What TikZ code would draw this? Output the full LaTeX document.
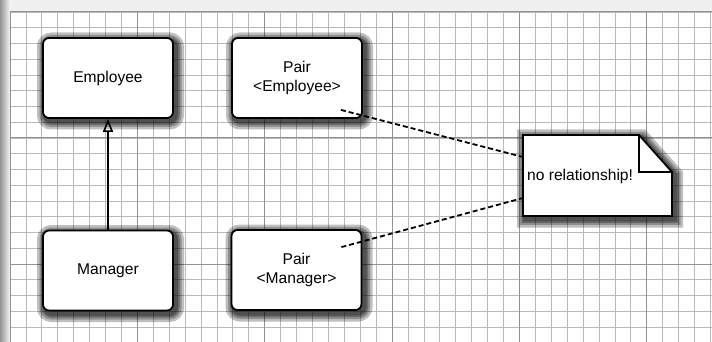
\documentclass[tikz,border=0pt]{standalone}
\usepackage{fontspec}
\setmainfont{Liberation Sans}
\usetikzlibrary{calc}
\usetikzlibrary{arrows.meta}

\tikzset{
  shadowring/.style={preaction={draw=black,line width=#1,opacity=.25,
    transform canvas={xshift=2.5pt,yshift=-3pt}}},
  softshadow/.style={shadowring=17pt,shadowring=12pt,shadowring=8pt,shadowring=5pt},
  classbox/.style={draw,line width=1.8pt,rounded corners=6pt,fill=white,
    minimum width=130pt,minimum height=80pt,align=center,inner sep=2pt,
    font=\fontsize{15.6}{19.5}\selectfont,softshadow},
  notetext/.style={inner sep=0pt,font=\fontsize{15.6}{19.5}\selectfont},
  inherits/.style={line width=1.8pt,-{Triangle[open,length=13pt,width=10pt,line width=1.6pt]}},
  notelink/.style={line width=1.8pt,dash pattern=on 5pt off 3pt},
  minorline/.style={gray!55,line width=0.8pt},
  majorline/.style={gray!85,line width=1pt},
}

\begin{document}
\begin{tikzpicture}[x=1pt,y=-1pt]
        \useasboundingbox (0,0) rectangle (712,342);

        % paper edge
        \fill[gray!12] (0,0) rectangle (712,11);
        \shade[left color=gray!85,right color=white] (0,0) rectangle (11,342);

        % grid paper
        \foreach \i in {0,...,44}
            \draw[minorline] ({10+15.92*\i},12) -- ({10+15.92*\i},342);
        \foreach \j in {0,...,21}
            \draw[minorline] (10,{12+15.75*\j}) -- (712,{12+15.75*\j});
        \foreach \i in {0,...,5}
            \draw[majorline] ({10+127.36*\i},12) -- ({10+127.36*\i},342);
        \foreach \j in {0,...,2}
            \draw[majorline] (10,{12+126*\j}) -- (712,{12+126*\j});

        % classes
        \node[classbox] (emp) at (108,78) {Employee};
        \node[classbox] (mgr) at (108,270.5) {Manager};
        \node[classbox] (pairemp) at (297,78) {Pair\\<Employee>};
        \node[classbox] (pairmgr) at (296.5,270) {Pair\\<Manager>};

        \draw[inherits] (mgr) -- (emp);

        % note
        \coordinate (empend) at ($(pairemp.south east)+(-22,-9)$);
        \coordinate (mgrend) at ($(pairmgr.north east)+(-21,18)$);
        \draw[notelink] (empend) -- (523,157);
        \draw[notelink] (mgrend) -- (523,198);
        \draw[line width=1.8pt,fill=white,softshadow]
            (523,135) -- (639,135) -- (672,172) -- (672,216) -- (523,216) -- cycle;
        \draw[line width=1.8pt] (639,135) -- (639,172) -- (672,172);
        \node[notetext,anchor=west] (note) at (527,176) {no relationship!};
    \end{tikzpicture}
\end{document}
